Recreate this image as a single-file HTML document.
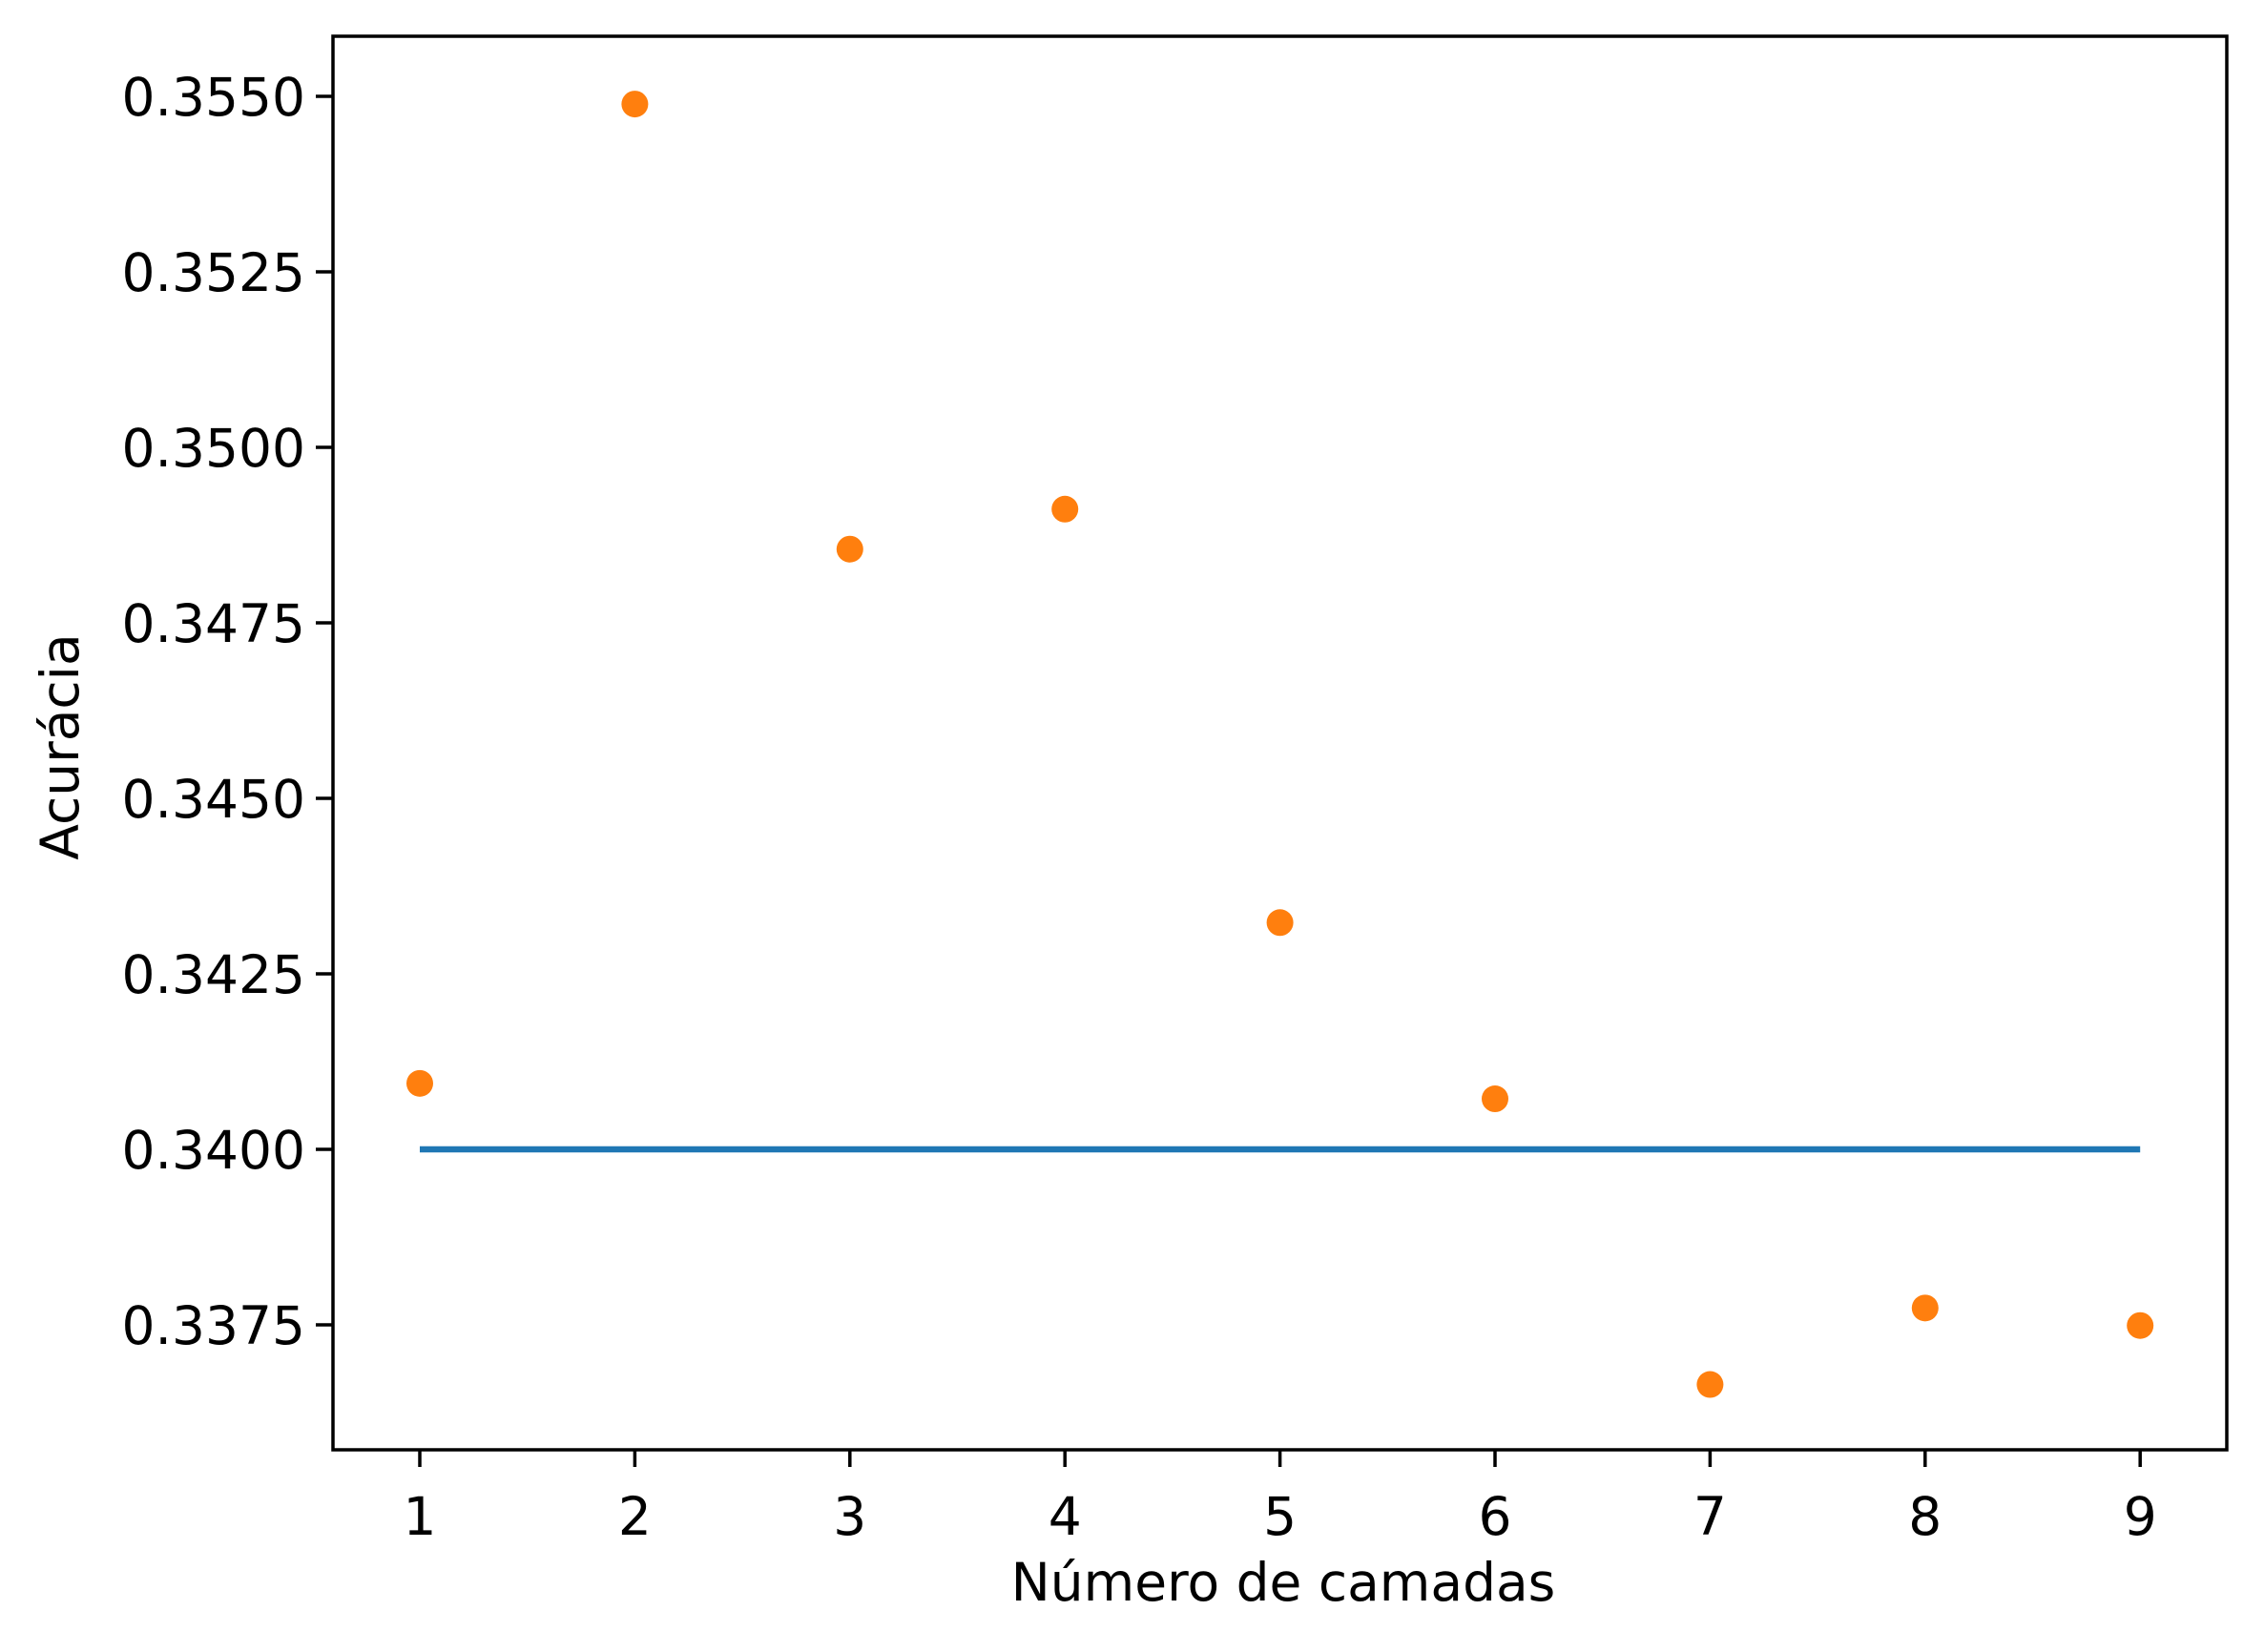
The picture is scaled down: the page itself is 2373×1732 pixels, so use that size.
<!DOCTYPE html>
<html><head><meta charset="utf-8"><style>
html,body{margin:0;padding:0;background:#fff}
svg text{font-family:"DejaVu Sans","Liberation Sans",sans-serif;fill:#000}
</style></head><body>
<svg id="chart" width="2373" height="1727" viewBox="0 0 2373 1727" xmlns="http://www.w3.org/2000/svg">
<rect width="2373" height="1727" fill="#fff"/>
<g id="marks"></g>
<rect x="349" y="38" width="1985" height="1482" fill="none" stroke="#000" stroke-width="3.5"/>
<g id="axes"></g>
<text x="1345" y="1678" font-size="55" text-anchor="middle">Número de camadas</text>
<text transform="translate(82,783) rotate(-90)" font-size="55" text-anchor="middle">Acurácia</text>
</svg>
<script>
const categories = [1,2,3,4,5,6,7,8,9];
const accuracy = [0.34094,0.35489,0.34855,0.34912,0.34323,0.34072,0.33665,0.33774,0.33749];
const baseline = [0.34,0.34];
const baselineX = [1,9];
const yTicks = [0.3375,0.3400,0.3425,0.3450,0.3475,0.3500,0.3525,0.3550];
const yTickLabels = ["0.3375","0.3400","0.3425","0.3450","0.3475","0.3500","0.3525","0.3550"];
const xTicks = [1,2,3,4,5,6,7,8,9];

const NS = "http://www.w3.org/2000/svg";
function xs(v){ return 440 + (v - 1) * 225.4; }
function ys(v){ return 1205 - (v - 0.34) / 0.0025 * 184; }
const marks = document.getElementById('marks');
const axes = document.getElementById('axes');

const line = document.createElementNS(NS,'line');


line.setAttribute('x1', xs(baselineX[0])); line.setAttribute('x2', xs(baselineX[1]));
line.setAttribute('y1', ys(baseline[0])); line.setAttribute('y2', ys(baseline[1]));
line.setAttribute('stroke', '#1f77b4'); line.setAttribute('stroke-width', '6.5');
marks.appendChild(line);

categories.forEach((c,i)=>{
  const p = document.createElementNS(NS,'circle');
  
  
  p.setAttribute('cx', xs(c)); p.setAttribute('cy', ys(accuracy[i]));
  p.setAttribute('r', '14'); p.setAttribute('fill', '#ff7f0e');
  marks.appendChild(p);
});

yTicks.forEach((t,i)=>{
  const y = ys(t);
  const tk = document.createElementNS(NS,'line');
  
  
  tk.setAttribute('x1', 331); tk.setAttribute('x2', 349);
  tk.setAttribute('y1', y); tk.setAttribute('y2', y);
  tk.setAttribute('stroke', '#000'); tk.setAttribute('stroke-width', '3.5');
  axes.appendChild(tk);
  const tx = document.createElementNS(NS,'text');
  
  
  tx.setAttribute('x', 320); tx.setAttribute('y', y + 20);
  tx.setAttribute('font-size', '55'); tx.setAttribute('text-anchor', 'end');
  tx.textContent = yTickLabels[i];
  axes.appendChild(tx);
});

xTicks.forEach(t=>{
  const x = xs(t);
  const tk = document.createElementNS(NS,'line');
  
  
  tk.setAttribute('x1', x); tk.setAttribute('x2', x);
  tk.setAttribute('y1', 1520); tk.setAttribute('y2', 1538);
  tk.setAttribute('stroke', '#000'); tk.setAttribute('stroke-width', '3.5');
  axes.appendChild(tk);
  const tx = document.createElementNS(NS,'text');
  
  
  tx.setAttribute('x', x); tx.setAttribute('y', 1609);
  tx.setAttribute('font-size', '55'); tx.setAttribute('text-anchor', 'middle');
  tx.textContent = String(t);
  axes.appendChild(tx);
});
</script>
</body></html>
